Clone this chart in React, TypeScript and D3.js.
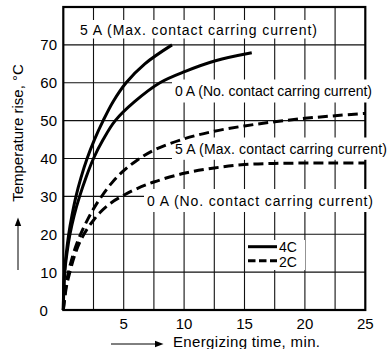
import React from "react";
import * as d3 from "d3";

// ---- data ----
const xTickLabels = [5, 10, 15, 20, 25];
const yTickLabels = [0, 10, 20, 30, 40, 50, 60, 70];
const xGridValues = [2.5, 5, 7.5, 10, 12.5, 15, 17.5, 20, 22.5];
const yGridValues = [10, 20, 30, 40, 50, 60, 70];

// 4C, 5 A (solid)
const time4C5A = [0, 0.03, 0.1, 0.25, 0.45, 0.72, 1.05, 1.47, 1.97, 2.58, 3.3, 4.12, 5.2, 6.75, 9.0];
const temp4C5A = [0, 5, 10, 15, 20, 25, 30, 35, 40, 45, 50, 55, 60, 65, 70];
// 4C, 0 A (solid)
const time4C0A = [0, 0.04, 0.12, 0.3, 0.55, 0.9, 1.35, 1.88, 2.5, 3.3, 4.3, 5.9, 8.0, 10.1, 12.6, 15.6];
const temp4C0A = [0, 5, 10, 15, 20, 25, 30, 35, 40, 45, 50, 55, 60, 63, 65.8, 67.9];
// 2C, 5 A (dashed)
const time2C5A = [0, 0.25, 0.5, 1, 1.5, 2, 2.5, 3, 4, 5, 6, 7.5, 10, 12.5, 15, 17.5, 20, 22.5, 25];
const temp2C5A = [0, 7, 11, 16.5, 20.5, 23.8, 26.7, 29.2, 33.5, 36.8, 39.3, 42.2, 45.2, 47.2, 48.6, 49.7, 50.6, 51.3, 51.9];
// 2C, 0 A (dashed)
const time2C0A = [0, 0.25, 0.5, 1, 1.5, 2, 2.5, 3, 4, 5, 6, 7.5, 10, 12.5, 15, 17.5, 20, 22.5, 25];
const temp2C0A = [0, 6, 9.5, 15, 18.8, 21.5, 23.7, 25.6, 28.4, 30.3, 31.9, 33.8, 36.1, 37.5, 38.4, 38.7, 38.8, 38.8, 38.8];

const curveLabels = [
  "5 A (Max. contact carring current)",
  "0 A (No. contact carring current)",
  "5 A (Max. contact carring current)",
  "0 A (No. contact carring current)",
];
const legendLabels = ["4C", "2C"];
const xTitle = "Energizing time, min.";
const yTitle = "Temperature rise, °C";

const W = 387;
const H = 349;
const FONT = "'Liberation Sans', Arial, Helvetica, sans-serif";

export default function App() {
  const x = d3.scaleLinear().domain([0, 25]).range([63.3, 365.3]);
  const y = d3.scaleLinear().domain([0, 80]).range([310, 7]);

  const line = d3
    .line<[number, number]>()
    .x((d) => x(d[0]))
    .y((d) => y(d[1]))
    .curve(d3.curveCatmullRom.alpha(0.5));

  const zip = (a: number[], b: number[]) => a.map((v, i) => [v, b[i]] as [number, number]);

  const series = [
    { d: zip(time4C5A, temp4C5A), dash: undefined },
    { d: zip(time4C0A, temp4C0A), dash: undefined },
    { d: zip(time2C5A, temp2C5A), dash: "10,5" },
    { d: zip(time2C0A, temp2C0A), dash: "10,5" },
  ];

  // label layout: [x start, baseline, textLength, box left, box right, box top, box bottom]
  const labelLayout = [
    [80, 34.5, 237, 77, 320, 20, 38.5],
    [175, 96, 197, 172, 387, 79.5, 102.5],
    [175, 153.5, 212, 172, 387, 137.5, 159.8],
    [147, 206, 226, 144, 387, 189, 212],
  ];

  const [x0, x1] = x.range();
  const [yb, yt] = y.range();

  return (
    <svg
      width={W}
      height={H}
      style={{ position: "absolute", left: 0, top: 0, background: "#fff" }}
      fontFamily={FONT}
    >
      <rect x={0} y={0} width={W} height={H} fill="#fff" />
      {/* grid */}
      {xGridValues.map((v) => (
        <line key={"gx" + v} x1={x(v)} x2={x(v)} y1={yt} y2={yb} stroke="#111" strokeWidth={1.1} />
      ))}
      {yGridValues.map((v) => (
        <line key={"gy" + v} x1={x0} x2={x1} y1={y(v)} y2={y(v)} stroke="#111" strokeWidth={1.1} />
      ))}
      {/* frame */}
      <rect x={x0} y={yt} width={x1 - x0} height={yb - yt} fill="none" stroke="#000" strokeWidth={2.2} />

      {/* label boxes */}
      {labelLayout.map((l, i) => (
        <rect key={"lb" + i} x={l[3]} y={l[5]} width={l[4] - l[3]} height={l[6] - l[5]} fill="#fff" />
      ))}

      {/* curves */}
      {series.map((s, i) => (
        <path
          key={"s" + i}
          d={line(s.d) || ""}
          fill="none"
          stroke="#000"
          strokeWidth={3}
          strokeDasharray={s.dash}
        />
      ))}

      {/* curve labels */}
      {curveLabels.map((t, i) => (
        <text
          key={"lt" + i}
          x={labelLayout[i][0]}
          y={labelLayout[i][1]}
          fontSize={14}
          textLength={labelLayout[i][2]}
          lengthAdjust="spacing"
          fill="#000"
        >
          {t}
        </text>
      ))}

      {/* legend */}
      <rect x={246} y={240} width={59} height={30} fill="#fff" />
      <line x1={248} x2={277} y1={246.7} y2={246.7} stroke="#000" strokeWidth={3} />
      <line x1={248} x2={277} y1={260.7} y2={260.7} stroke="#000" strokeWidth={3} strokeDasharray="7.5,3.5" />
      <text x={279} y={252} fontSize={14}>{legendLabels[0]}</text>
      <text x={279} y={267} fontSize={14}>{legendLabels[1]}</text>

      {/* y tick labels */}
      {yTickLabels.map((v) => (
        <text key={"yt" + v} x={v === 0 ? 39.5 : 57} y={y(v) + 5.5} fontSize={15} textAnchor={v === 0 ? "start" : "end"}>
          {v}
        </text>
      ))}
      {/* x tick labels */}
      {xTickLabels.map((v) => (
        <text key={"xt" + v} x={x(v)} y={328.5} fontSize={15} textAnchor="middle">
          {v}
        </text>
      ))}

      {/* x title */}
      <line x1={111} x2={157} y1={344} y2={344} stroke="#000" strokeWidth={1} />
      <path d="M163.5,344 L155,340.8 L155,347.2 Z" fill="#000" />
      <text x={173} y={347} fontSize={15} textLength={147} lengthAdjust="spacing">{xTitle}</text>

      {/* y title */}
      <line x1={18} x2={18} y1={270} y2={224} stroke="#000" strokeWidth={1} />
      <path d="M18,217.5 L14.8,226 L21.2,226 Z" fill="#000" />
      <text
        transform="translate(23,133) rotate(-90)"
        textAnchor="middle"
        fontSize={15}
      >
        {yTitle}
      </text>
    </svg>
  );
}
